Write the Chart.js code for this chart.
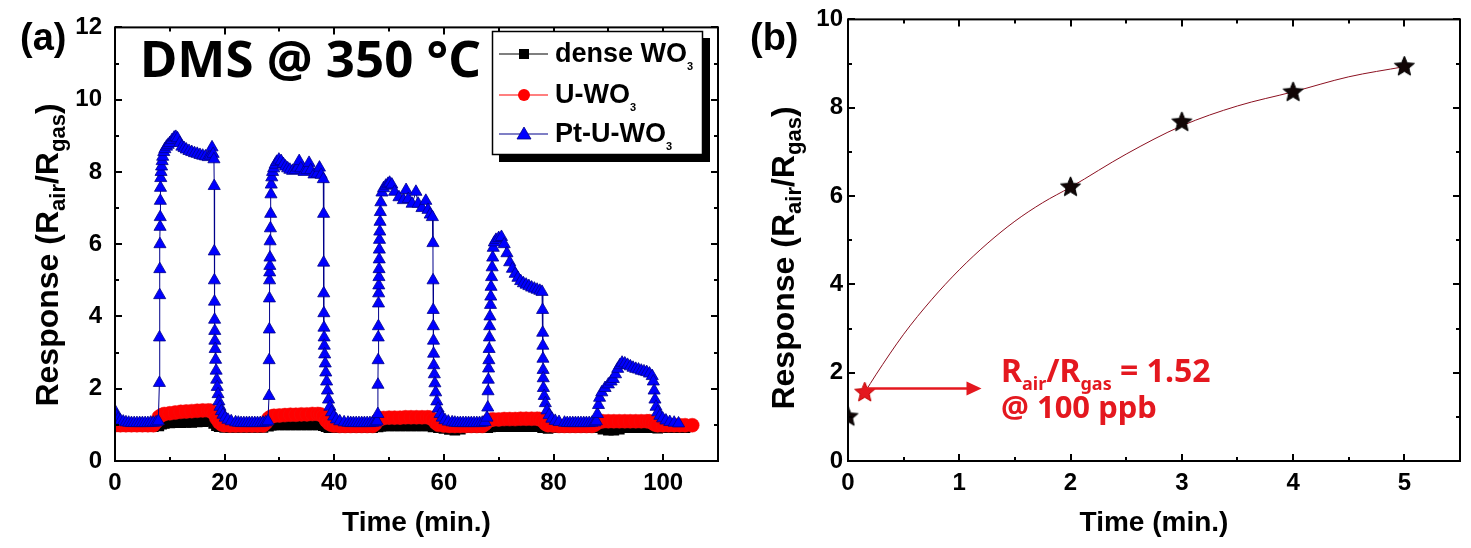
<!DOCTYPE html>
<html>
<head>
<meta charset="utf-8">
<script src="https://cdn.jsdelivr.net/npm/chart.js@4.4.0/dist/chart.umd.min.js"></script>
<style>
html, body { margin: 0; padding: 0; background: #fff; }
#wrapA { position: absolute; left: 0; top: 0; width: 735px; height: 548px; }
#wrapB { position: absolute; left: 735px; top: 0; width: 736px; height: 548px; }
</style>
</head>
<body>
<div id="wrapA"><canvas id="chartA"></canvas></div>
<div id="wrapB"><canvas id="chartB"></canvas></div>
<script>
// ---- panel (a): response transients, time in min ----
const ptTime = [
  0, 0.3, 0.6, 1, 1.5, 2, 2.5, 3, 3.5, 4, 4.5, 5, 5.5, 6, 6.5, 7, 7.5, 7.9,
  8.1, 8.12, 8.15, 8.17, 8.2, 8.22, 8.25, 8.27, 8.3, 8.35, 8.4, 8.5, 8.6, 8.7, 8.9, 9.1, 9.4, 9.7, 10.0, 10.4,
  10.8, 11.1, 11.4, 11.8, 12.2, 12.6, 13.0, 13.5, 14.0, 14.5, 15.0, 15.5, 16.0, 16.5, 17.0, 17.4, 17.7, 17.9, 18.05,
  18.1, 18.11, 18.13, 18.15, 18.17, 18.2, 18.22, 18.27, 18.35, 18.45, 18.55, 18.65, 18.8, 18.95, 19.15, 19.4, 19.7, 20.1, 20.6, 21.2, 22.0,
  22.5, 23, 23.5, 24, 24.5, 25, 25.5, 26, 26.5, 27, 27.5, 27.9,
  28.1, 28.12, 28.15, 28.17, 28.2, 28.22, 28.25, 28.27, 28.3, 28.35, 28.4, 28.45, 28.5, 28.6, 28.75, 28.95, 29.2, 29.5, 29.9, 30.3,
  30.7, 31.1, 31.5, 31.9, 32.4, 32.9, 33.3, 33.6, 33.9, 34.5, 35.0, 35.4, 35.7, 36.3, 36.9, 37.3, 37.6, 38.0,
  38.05, 38.06, 38.08, 38.1, 38.12, 38.15, 38.18, 38.25, 38.35, 38.45, 38.6, 38.75, 38.95, 39.2, 39.5, 39.9, 40.4, 41.0, 41.8,
  42.5, 43, 43.5, 44, 44.5, 45, 45.5, 46, 46.5, 47, 47.5, 47.8,
  47.95, 47.97, 48.0, 48.02, 48.05, 48.07, 48.1, 48.12, 48.15, 48.17, 48.2, 48.22, 48.25, 48.3, 48.35, 48.4, 48.5, 48.7, 49.0, 49.4,
  49.8, 50.1, 50.5, 51.0, 51.8, 52.6, 53.1, 53.5, 54.2, 54.9, 55.3, 56.0, 56.7, 57.1, 57.5, 57.9,
  58.0, 58.02, 58.05, 58.07, 58.1, 58.12, 58.15, 58.25, 58.35, 58.5, 58.7, 58.95, 59.3, 59.7, 60.2, 60.8, 61.5,
  62, 62.5, 63, 63.5, 64, 64.5, 65, 65.5, 66, 66.5, 67, 67.5, 67.85,
  68.0, 68.05, 68.1, 68.15, 68.2, 68.25, 68.3, 68.35, 68.4, 68.5, 68.55, 68.6, 68.7, 68.8, 68.9, 69.0, 69.2, 69.5, 70.0, 70.5,
  71.0, 71.5, 72.0, 72.5, 73.0, 73.5, 74.0, 74.5, 75.0, 75.5, 76.0, 76.5, 77.0, 77.5, 77.9,
  78.0, 78.02, 78.05, 78.07, 78.1, 78.12, 78.15, 78.3, 78.5, 78.8, 79.2, 79.7, 80.3, 81.0, 82.0,
  82.5, 83, 83.5, 84, 84.5, 85, 85.5, 86, 86.5, 87, 87.5,
  87.8, 88.0, 88.2, 88.4, 88.8, 89.4, 90.0, 90.5, 90.9, 91.3, 91.7, 92.1, 92.5, 93.0, 93.5, 94.0, 94.5, 95.0, 95.5, 96.0,
  96.5, 97.0, 97.5, 98.0, 98.2, 98.35, 98.5, 98.7, 99.0, 99.4, 99.9, 100.5, 101.2, 102.0, 102.8
];
const ptValue = [
  1.38, 1.25, 1.17, 1.12, 1.09, 1.07, 1.06, 1.05, 1.05, 1.05, 1.05, 1.05, 1.05, 1.05, 1.06, 1.06, 1.07, 1.1,
  2.16, 3.42, 4.59, 5.31, 6.0, 6.48, 6.75, 7.2, 7.56, 7.83, 8.0, 8.15, 8.3, 8.42, 8.55, 8.63, 8.7, 8.75, 8.8, 8.88,
  8.95, 8.97, 8.93, 8.8, 8.7, 8.66, 8.62, 8.58, 8.55, 8.52, 8.5, 8.47, 8.45, 8.43, 8.41, 8.45, 8.68, 8.5, 8.35,
  7.61, 5.8, 5.0, 4.41, 3.91, 3.6, 3.33, 3.1, 2.8, 2.5, 2.25, 2.05, 1.85, 1.65, 1.5, 1.38, 1.28, 1.2, 1.14, 1.1, 1.07,
  1.06, 1.05, 1.05, 1.05, 1.05, 1.05, 1.05, 1.05, 1.05, 1.06, 1.07, 1.1,
  1.8, 2.79, 3.64, 4.5, 5.0, 5.22, 5.4, 5.63, 6.08, 6.44, 6.84, 7.38, 7.65, 7.85, 8.0, 8.1, 8.2, 8.28, 8.34, 8.3,
  8.22, 8.15, 8.1, 8.06, 8.03, 8.05, 8.12, 8.3, 8.1, 8.0, 8.05, 8.25, 8.05, 7.93, 7.95, 8.12, 7.92, 7.8,
  6.84, 5.49, 4.64, 4.09, 3.69, 3.42, 3.19, 2.95, 2.7, 2.45, 2.2, 1.95, 1.7, 1.5, 1.35, 1.23, 1.15, 1.1, 1.07,
  1.06, 1.05, 1.05, 1.05, 1.05, 1.05, 1.05, 1.05, 1.05, 1.06, 1.07, 1.1,
  1.3, 2.11, 2.79, 3.42, 3.73, 4.36, 4.64, 4.86, 5.09, 5.31, 5.58, 5.85, 6.12, 6.35, 6.62, 6.89, 7.16, 7.43, 7.55, 7.62,
  7.67, 7.7, 7.65, 7.45, 7.3, 7.22, 7.5, 7.25, 7.12, 7.45, 7.12, 7.0, 7.2, 6.95, 6.82, 6.75,
  6.03, 5.0, 4.18, 3.73, 3.33, 2.97, 2.65, 2.4, 2.15, 1.9, 1.65, 1.45, 1.3, 1.2, 1.13, 1.09, 1.07,
  1.06, 1.05, 1.05, 1.05, 1.05, 1.05, 1.05, 1.05, 1.05, 1.05, 1.06, 1.08, 1.2,
  1.48, 1.93, 2.25, 2.56, 2.79, 3.1, 3.42, 3.73, 4.0, 4.32, 4.55, 4.82, 5.09, 5.36, 5.63, 5.9, 6.05, 6.12, 6.17, 6.2,
  6.0, 5.75, 5.5, 5.32, 5.18, 5.07, 4.98, 4.92, 4.88, 4.84, 4.8, 4.77, 4.74, 4.71, 4.68,
  4.18, 3.55, 3.19, 2.83, 2.52, 2.29, 2.02, 1.8, 1.6, 1.4, 1.27, 1.17, 1.11, 1.08, 1.06,
  1.05, 1.05, 1.05, 1.05, 1.05, 1.05, 1.05, 1.05, 1.05, 1.06, 1.07,
  1.1, 1.3, 1.55, 1.75, 1.9, 2.02, 2.12, 2.2, 2.27, 2.4, 2.55, 2.65, 2.72, 2.7, 2.66, 2.62, 2.58, 2.55, 2.53, 2.5,
  2.48, 2.46, 2.42, 2.35, 2.2, 1.95, 1.7, 1.5, 1.35, 1.25, 1.18, 1.12, 1.08, 1.06, 1.04
];
const uTime = [
  0, 1, 2, 3, 4, 5, 6, 7,
  7.5, 8, 8.5, 9, 10, 11, 12, 13, 14, 15, 16, 17, 17.5, 18, 18.5, 19, 19.5, 20,
  21, 22, 23, 24, 25, 26, 27,
  27.5, 28, 28.5, 29, 30, 31, 32, 33, 34, 35, 36, 37, 37.5, 38, 38.5, 39, 39.5, 40,
  41, 42, 43, 44, 45, 46, 47,
  47.5, 48, 48.5, 49, 50, 51, 52, 53, 54, 55, 56, 57, 57.5, 58, 58.5, 59, 60,
  61, 62, 63, 64, 65, 66, 67,
  67.5, 68, 68.5, 69, 70, 71, 72, 73, 74, 75, 76, 77, 77.5, 78, 78.5, 79, 80,
  81, 82, 83, 84, 85, 86, 87,
  87.5, 88, 88.5, 89, 90, 91, 92, 93, 94, 95, 96, 97, 97.5, 98, 98.5, 99,
  100, 101, 102, 103, 104, 105.3
];
const uValue = [
  0.99, 0.99, 0.99, 0.99, 0.99, 0.99, 0.99, 0.99,
  1.08, 1.22, 1.27, 1.3, 1.32, 1.34, 1.36, 1.37, 1.38, 1.39, 1.4, 1.4, 1.39, 1.32, 1.18, 1.07, 1.01, 0.99,
  0.98, 0.98, 0.98, 0.98, 0.98, 0.98, 0.98,
  1.05, 1.18, 1.23, 1.25, 1.26, 1.27, 1.28, 1.28, 1.29, 1.29, 1.3, 1.3, 1.29, 1.24, 1.12, 1.04, 1.0, 0.98,
  0.97, 0.97, 0.97, 0.97, 0.97, 0.97, 0.97,
  1.03, 1.13, 1.17, 1.19, 1.2, 1.2, 1.2, 1.21, 1.21, 1.21, 1.21, 1.21, 1.2, 1.15, 1.06, 1.0, 0.98,
  0.97, 0.97, 0.97, 0.97, 0.97, 0.97, 0.97,
  1.02, 1.1, 1.14, 1.15, 1.15, 1.16, 1.16, 1.16, 1.17, 1.17, 1.17, 1.17, 1.16, 1.11, 1.03, 0.99, 0.98,
  0.97, 0.97, 0.97, 0.97, 0.97, 0.97, 0.97,
  1.0, 1.06, 1.09, 1.1, 1.1, 1.1, 1.1, 1.1, 1.1, 1.1, 1.1, 1.1, 1.1, 1.06, 1.01, 0.99,
  0.99, 0.99, 0.99, 0.99, 0.99, 0.99
];
const dTime = [
  0, 1, 2, 3, 4, 5, 6, 7,
  8, 8.5, 9, 10, 11, 12, 13, 14, 15, 16, 17, 17.5, 18, 18.5, 19,
  20, 21, 22, 23, 24, 25, 26, 27,
  28, 28.5, 29, 30, 31, 32, 33, 34, 35, 36, 37, 38, 38.5,
  39, 40, 41, 42, 43, 44, 45, 46, 47,
  48, 48.5, 49, 50, 51, 52, 53, 54, 55, 56, 57, 58,
  59, 60, 61, 62, 63, 64, 65, 66, 67,
  68, 68.5, 69, 70, 71, 72, 73, 74, 75, 76, 77, 78,
  79, 80, 81, 82, 83, 84, 85, 86, 87, 88, 89, 90, 91, 92, 93, 94, 95, 96, 97, 98, 99, 100, 101, 102, 103, 104
];
const dValue = [
  0.95, 0.95, 0.95, 0.95, 0.95, 0.95, 0.95, 0.95,
  0.97, 1.02, 1.04, 1.05, 1.06, 1.06, 1.07, 1.07, 1.08, 1.09, 1.1, 1.1, 1.04, 0.98, 0.95,
  0.93, 0.93, 0.93, 0.93, 0.93, 0.93, 0.93, 0.93,
  0.96, 0.99, 1.0, 1.0, 1.0, 1.0, 1.0, 1.0, 1.0, 1.0, 1.0, 0.98, 0.95,
  0.92, 0.92, 0.92, 0.92, 0.92, 0.92, 0.92, 0.92, 0.92,
  0.94, 0.96, 0.97, 0.97, 0.97, 0.97, 0.97, 0.97, 0.97, 0.97, 0.97, 0.94,
  0.92, 0.9, 0.87, 0.85, 0.88, 0.92, 0.92, 0.92, 0.92,
  0.92, 0.94, 0.95, 0.95, 0.95, 0.95, 0.95, 0.95, 0.95, 0.95, 0.95, 0.92,
  0.9, 0.92, 0.92, 0.92, 0.92, 0.92, 0.92, 0.92, 0.92, 0.92, 0.88, 0.85, 0.85, 0.88, 0.92, 0.92, 0.92, 0.92, 0.92, 0.92, 0.91, 0.92, 0.92, 0.92, 0.92, 0.92
];
const xTicksA = [0, 20, 40, 60, 80, 100];
const yTicksA = [0, 2, 4, 6, 8, 10, 12];

// ---- panel (b): response vs time ----
const starTime = [0, 2, 3, 4, 5];
const starValue = [1.0, 6.2, 7.67, 8.35, 8.93];
const markTime = [0.15];
const markValue = [1.55];
const fitTime = [0.15, 0.25, 0.5, 0.75, 1, 1.25, 1.5, 1.75, 2, 2.5, 3, 3.5, 4, 4.5, 5];
const fitValue = [1.55, 1.95, 2.87, 3.65, 4.33, 4.92, 5.43, 5.85, 6.2, 6.95, 7.59, 8.04, 8.36, 8.7, 8.93];
const arrowFrom = 0.15, arrowTo = 1.2, arrowLevel = 1.64;
const xTicksB = [0, 1, 2, 3, 4, 5];
const yTicksB = [0, 2, 4, 6, 8, 10];

const RED = '#e4181f';
Chart.defaults.font.family = '"Liberation Sans", Arial, sans-serif';

function toPoints(xs, ys) {
  return xs.map(function (x, i) { return { x: x, y: ys[i] }; });
}

function makeStar(fill, edge, r) {
  const c = document.createElement('canvas');
  const s = Math.ceil(r * 2 + 4);
  c.width = s; c.height = s;
  const g = c.getContext('2d');
  g.beginPath();
  for (let i = 0; i < 10; i++) {
    const a = -Math.PI / 2 + i * Math.PI / 5;
    const rr = i % 2 ? r * 0.45 : r;
    g.lineTo(s / 2 + rr * Math.cos(a), s / 2 + rr * Math.sin(a));
  }
  g.closePath();
  g.fillStyle = fill; g.fill();
  g.strokeStyle = edge; g.lineWidth = 1; g.stroke();
  return c;
}

function isMajor(v, step) {
  return Math.abs(v / step - Math.round(v / step)) < 1e-6;
}

// box + inward ticks on all four sides (Origin style)
const frameTicks = {
  id: 'frameTicks',
  afterDraw(chart, args, opts) {
    const ctx = chart.ctx, a = chart.chartArea;
    const xs = chart.scales.x, ys = chart.scales.y;
    ctx.save();
    ctx.strokeStyle = '#000';
    ctx.lineWidth = 2;
    ctx.strokeRect(a.left, a.top, a.right - a.left, a.bottom - a.top);
    ctx.beginPath();
    for (let v = xs.min; v <= xs.max + 1e-9; v += opts.xMinor) {
      const p = Math.round(xs.getPixelForValue(v));
      const len = isMajor(v, opts.xMajor) ? 7 : 4;
      ctx.moveTo(p, a.bottom); ctx.lineTo(p, a.bottom - len);
      ctx.moveTo(p, a.top); ctx.lineTo(p, a.top + len);
    }
    for (let v = ys.min; v <= ys.max + 1e-9; v += opts.yMinor) {
      const p = Math.round(ys.getPixelForValue(v));
      const len = isMajor(v, opts.yMajor) ? 7 : 4;
      ctx.moveTo(a.left, p); ctx.lineTo(a.left + len, p);
      ctx.moveTo(a.right, p); ctx.lineTo(a.right - len, p);
    }
    ctx.stroke();
    ctx.restore();
  }
};

function drawRich(ctx, x, y, parts) {
  parts.forEach(function (p) {
    ctx.font = p[1];
    ctx.fillText(p[0], x, y + (p[2] || 0));
    x += ctx.measureText(p[0]).width;
  });
}

function richWidth(ctx, parts) {
  let w = 0;
  parts.forEach(function (p) { ctx.font = p[1]; w += ctx.measureText(p[0]).width; });
  return w;
}

function drawYTitle(ctx, cx, cy) {
  const big = 'bold 32px "Liberation Sans", Arial, sans-serif';
  const small = 'bold 22px "Liberation Sans", Arial, sans-serif';
  const parts = [['Response (R', big], ['air', small, 7], ['/R', big], ['gas', small, 7], [')', big]];
  ctx.save();
  ctx.translate(cx, cy);
  ctx.rotate(-Math.PI / 2);
  ctx.fillStyle = '#000';
  ctx.textBaseline = 'alphabetic';
  const w = richWidth(ctx, parts);
  drawRich(ctx, -w / 2, 11.5, parts);
  ctx.restore();
}

function drawLegend(ctx) {
  const font = 'bold 27px "Liberation Sans", Arial, sans-serif';
  const sub = 'bold 11px "Liberation Sans", Arial, sans-serif';
  ctx.fillStyle = '#000';
  ctx.fillRect(499, 38, 211, 124);
  ctx.fillStyle = '#fff';
  ctx.fillRect(492, 31, 211, 124);
  ctx.strokeStyle = '#000';
  ctx.lineWidth = 1.5;
  ctx.strokeRect(492.5, 31.5, 210, 123);

  const rows = [
    { y: 54, text: 'dense WO', color: '#000' },
    { y: 95, text: 'U-WO', color: '#ff0000' },
    { y: 134, text: 'Pt-U-WO', color: '#0000cc' }
  ];
  rows.forEach(function (r, i) {
    ctx.strokeStyle = i === 2 ? '#00008b' : r.color;
    ctx.lineWidth = 1.2;
    ctx.beginPath(); ctx.moveTo(499, r.y); ctx.lineTo(548, r.y); ctx.stroke();
    ctx.beginPath();
    if (i === 0) {
      ctx.fillStyle = '#000';
      ctx.fillRect(519, r.y - 5, 10, 10);
    } else if (i === 1) {
      ctx.fillStyle = '#ff0000';
      ctx.arc(524, r.y, 6, 0, Math.PI * 2); ctx.fill();
    } else {
      ctx.fillStyle = '#0000ff';
      ctx.moveTo(524, r.y - 7); ctx.lineTo(531, r.y + 5); ctx.lineTo(517, r.y + 5); ctx.closePath(); ctx.fill();
      ctx.strokeStyle = '#00008b'; ctx.lineWidth = 0.8; ctx.stroke();
    }
    ctx.fillStyle = '#000';
    ctx.textBaseline = 'alphabetic';
    drawRich(ctx, 555, r.y + 8, [[r.text, font], ['3', sub, 8]]);
  });
}

const panelA = {
  id: 'panelA',
  afterDraw(chart) {
    const ctx = chart.ctx;
    ctx.save();
    ctx.fillStyle = '#000';
    ctx.textBaseline = 'alphabetic';
    ctx.font = 'bold 38px "Liberation Sans", Arial, sans-serif';
    ctx.fillText('(a)', 20, 50);
    ctx.font = 'bold 51px "Noto Sans", sans-serif';
    ctx.fillText('DMS @ 350 \u00B0C', 140, 77);
    drawLegend(ctx);
    drawYTitle(ctx, 46, 255);
    ctx.restore();
  }
};

const panelB = {
  id: 'panelB',
  afterDraw(chart) {
    const ctx = chart.ctx;
    const xs = chart.scales.x, ys = chart.scales.y;
    ctx.save();
    ctx.fillStyle = '#000';
    ctx.textBaseline = 'alphabetic';
    ctx.font = 'bold 38px "Liberation Sans", Arial, sans-serif';
    ctx.fillText('(b)', 15, 50);
    drawYTitle(ctx, 47, 258);

    // arrow from the 100 ppb point
    const x0 = xs.getPixelForValue(arrowFrom), x1 = xs.getPixelForValue(arrowTo);
    const ya = ys.getPixelForValue(arrowLevel);
    ctx.strokeStyle = RED; ctx.fillStyle = RED;
    ctx.lineWidth = 2.5;
    ctx.beginPath(); ctx.moveTo(x0, ya); ctx.lineTo(x1 - 12, ya); ctx.stroke();
    ctx.beginPath(); ctx.moveTo(x1, ya); ctx.lineTo(x1 - 15, ya - 7); ctx.lineTo(x1 - 15, ya + 7); ctx.closePath(); ctx.fill();

    const big = 'bold 32px "Noto Sans", sans-serif';
    const small = 'bold 18px "Noto Sans", sans-serif';
    drawRich(ctx, 266, 382, [['R', big], ['air', small, 8], ['/R', big], ['gas', small, 8], [' = 1.52', big]]);
    ctx.font = 'bold 31px "Noto Sans", sans-serif';
    ctx.fillText('@ 100 ppb', 266, 418);
    ctx.restore();
  }
};

function axisOpts(min, max, ticks, fontSize, pad, fit, titleText) {
  const o = {
    type: 'linear', min: min, max: max,
    afterBuildTicks: function (s) { s.ticks = ticks.map(function (v) { return { value: v }; }); },
    afterFit: fit,
    grid: { display: false, drawTicks: false },
    border: { display: false },
    ticks: { font: { size: fontSize, weight: 'bold' }, color: '#000', padding: pad, maxRotation: 0, autoSkip: false }
  };
  if (titleText) {
    o.title = { display: true, text: titleText, color: '#000', font: { size: 28, weight: 'bold' }, padding: { top: 0, bottom: 8 } };
  }
  return o;
}

new Chart(document.getElementById('chartA'), {
  type: 'line',
  data: {
    datasets: [
      {
        label: 'dense WO3', data: toPoints(dTime, dValue), order: 3,
        borderColor: '#000', borderWidth: 1, tension: 0,
        pointStyle: 'rect', pointRadius: 7.5, pointBackgroundColor: '#000', pointBorderColor: '#000', pointBorderWidth: 0
      },
      {
        label: 'U-WO3', data: toPoints(uTime, uValue), order: 2,
        borderColor: '#ff0000', borderWidth: 1, tension: 0,
        pointStyle: 'circle', pointRadius: 7, pointBackgroundColor: '#ff0000', pointBorderColor: '#f01010', pointBorderWidth: 0.5
      },
      {
        label: 'Pt-U-WO3', data: toPoints(ptTime, ptValue), order: 1,
        borderColor: '#00008b', borderWidth: 1, tension: 0,
        pointStyle: 'triangle', pointRadius: 7, pointBackgroundColor: '#0000ff', pointBorderColor: '#00008b', pointBorderWidth: 0.8
      }
    ]
  },
  options: {
    animation: false, responsive: true, maintainAspectRatio: false,
    layout: { padding: { top: 17, right: 17, left: 0, bottom: 0 } },
    plugins: {
      legend: { display: false }, tooltip: { enabled: false },
      frameTicks: { xMinor: 10, xMajor: 20, yMinor: 1, yMajor: 2 }
    },
    scales: {
      x: axisOpts(0, 110, xTicksA, 24, 8, function (s) { s.height = 87; }, 'Time (min.)'),
      y: axisOpts(0, 12, yTicksA, 24, 13, function (s) { s.width = 115; })
    }
  },
  plugins: [frameTicks, panelA]
});

new Chart(document.getElementById('chartB'), {
  type: 'line',
  data: {
    datasets: [
      {
        label: 'fit', data: toPoints(fitTime, fitValue), order: 3,
        borderColor: '#8b1020', borderWidth: 1, pointRadius: 0, cubicInterpolationMode: 'monotone'
      },
      {
        label: '100 ppb', data: toPoints(markTime, markValue), order: 2, showLine: false,
        pointStyle: makeStar(RED, '#c00000', 10.5), pointRadius: 10
      },
      {
        label: 'response', data: toPoints(starTime, starValue), order: 1, showLine: false,
        pointStyle: makeStar('#120606', '#000', 10.5), pointRadius: 10
      }
    ]
  },
  options: {
    animation: false, responsive: true, maintainAspectRatio: false,
    layout: { padding: { top: 17, right: 9, left: 0, bottom: 0 } },
    plugins: {
      legend: { display: false }, tooltip: { enabled: false },
      frameTicks: { xMinor: 0.5, xMajor: 1, yMinor: 1, yMajor: 2 }
    },
    scales: {
      x: axisOpts(0, 5.5, xTicksB, 24, 8, function (s) { s.height = 87; }, 'Time (min.)'),
      y: axisOpts(0, 10, yTicksB, 24, 5, function (s) { s.width = 113; })
    }
  },
  plugins: [frameTicks, panelB]
});
</script>
</body>
</html>
